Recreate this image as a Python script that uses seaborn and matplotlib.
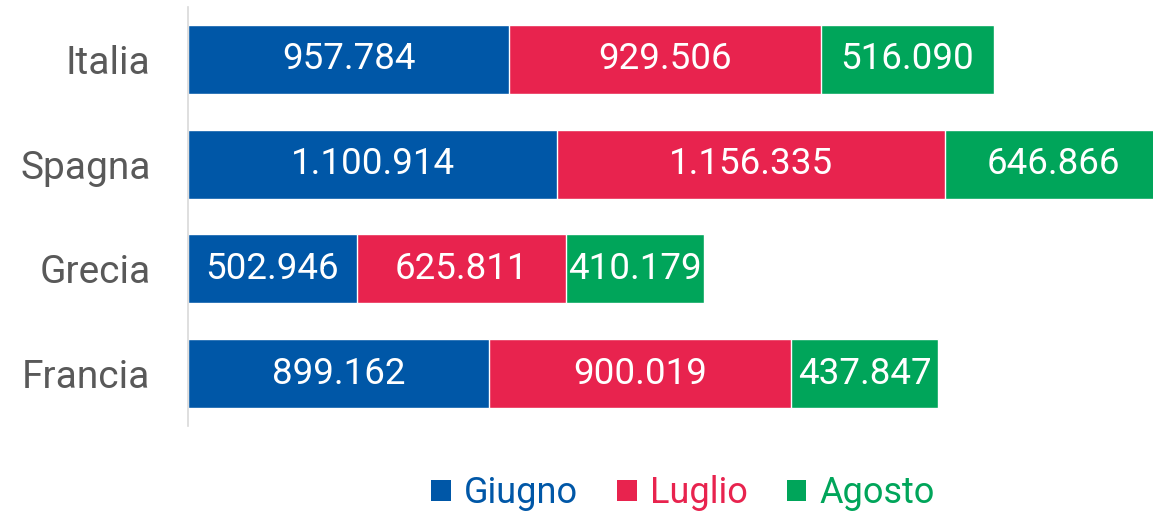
import matplotlib
matplotlib.use("Agg")
import matplotlib.pyplot as plt
import seaborn as sns
import pandas as pd
import numpy as np
from matplotlib.patches import Patch

paesi = ["Italia", "Spagna", "Grecia", "Francia"]
mesi = ["Giugno", "Luglio", "Agosto"]
giugno = [957784, 1100914, 502946, 899162]
luglio = [929506, 1156335, 625811, 900019]
agosto = [516090, 646866, 410179, 437847]
colori = ["#0057A7", "#E8234E", "#00A55A"]

sns.set_theme(style="white")
plt.rcParams["font.family"] = ["Roboto", "DejaVu Sans"]

df = pd.DataFrame({"Paese": paesi, "Giugno": giugno, "Luglio": luglio, "Agosto": agosto})
valori = df[mesi].to_numpy()
cumul = np.cumsum(valori, axis=1)

fig = plt.figure(figsize=(11.53, 5.14), dpi=100)
ax = fig.add_axes([188 / 1153, 1 - 426 / 514, 1005.6 / 1153, 419 / 514])

# stacked bars: draw cumulative totals back to front
for i in range(len(mesi) - 1, -1, -1):
    sns.barplot(x=cumul[:, i], y=df["Paese"], orient="h", color=colori[i],
                width=0.66, saturation=1, ax=ax, order=paesi)

# value labels centred on each segment
for r in range(len(paesi)):
    for i in range(len(mesi)):
        start = cumul[r, i] - valori[r, i]
        testo = f"{valori[r, i]:,}".replace(",", ".")
        ax.text(start + valori[r, i] / 2, r, testo, ha="center", va="center",
                color="white", fontsize=26.5)

ax.set_xlim(0, 3.0e6)
ax.set_ylim(3.5, -0.5)
ax.set_xlabel("")
ax.set_ylabel("")
ax.set_xticks([])
ax.tick_params(axis="y", length=0, pad=27, labelsize=28, labelcolor="#595959")
for s in ["top", "right", "bottom"]:
    ax.spines[s].set_visible(False)
ax.spines["left"].set_color("#D9D9D9")
ax.spines["left"].set_linewidth(1.2)

handles = [Patch(facecolor=c, edgecolor="none") for c in colori]
leg = fig.legend(handles, mesi, loc="center", bbox_to_anchor=(683 / 1153, 1 - 493 / 514),
                 ncol=3, frameon=False, fontsize=26, handlelength=0.53, handleheight=0.53,
                 handletextpad=0.36, columnspacing=1.1)
for t, c in zip(leg.get_texts(), colori):
    t.set_color(c)

fig.savefig("out.png", dpi=100)
